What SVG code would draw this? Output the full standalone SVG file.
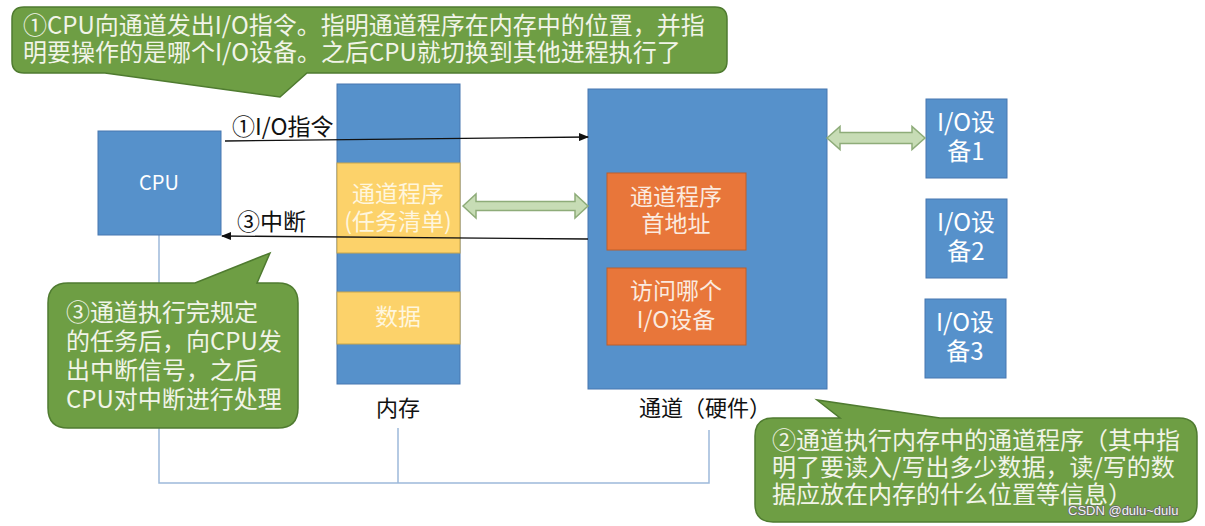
<svg xmlns="http://www.w3.org/2000/svg" width="1205" height="526" viewBox="0 0 1205 526">
<style>
text{font-family:"Noto Sans CJK SC","Liberation Sans",sans-serif;}
.blue{fill:#5691CB;stroke:#4677B0;stroke-width:1;}
.yellow{fill:#FCD26A;stroke:#C9A64A;stroke-width:1;}
.orange{fill:#E8763A;stroke:#BE5E2A;stroke-width:1;}
.callout{fill:#6E9E44;stroke:#4F7B30;stroke-width:1.5;}
.ct{fill:#F1F4E8;font-size:24px;}
.wt{fill:#FFFFFF;font-size:24px;text-anchor:middle;}
.yt{fill:#FFF6DE;font-size:23px;text-anchor:middle;}
.ot{fill:#FBEADF;font-size:23px;text-anchor:middle;}
.lbl{fill:#111;font-size:23px;}
.bus{stroke:#9DB9DA;stroke-width:1.5;fill:none;}
.dbl{fill:#C7DCB5;stroke:#8EAC79;stroke-width:1.5;}
.conn{stroke:#111;stroke-width:1.3;fill:none;}
</style>
<defs>
<marker id="ah" markerWidth="10" markerHeight="8" refX="9" refY="4" orient="auto" markerUnits="userSpaceOnUse">
<path d="M0,0 L10,4 L0,8 Z" fill="#111"/>
</marker>
</defs>
<rect width="1205" height="526" fill="#FFFFFF"/>

<g id="bus">
<path class="bus" d="M159,235 V483 H709 V430"/>
<path class="bus" d="M398,428 V483"/>
</g>

<g id="cpu">
<rect class="blue" x="98" y="131" width="123" height="104"/>
<text class="wt" x="159" y="190" style="font-size:20px">CPU</text>
</g>

<g id="memory">
<rect class="blue" x="337" y="84" width="123" height="300"/>
<rect class="yellow" x="337" y="163" width="123" height="90"/>
<rect class="yellow" x="337" y="292" width="123" height="52"/>
<text class="yt" x="398" y="202">通道程序</text>
<text class="yt" x="398" y="230">(任务清单)</text>
<text class="yt" x="398" y="325">数据</text>
<text class="lbl" x="398" y="416" text-anchor="middle" style="font-size:22px">内存</text>
</g>

<g id="channel">
<rect class="blue" x="588" y="89" width="239" height="300"/>
<rect class="orange" x="607" y="173" width="139" height="77"/>
<rect class="orange" x="607" y="268" width="139" height="77"/>
<text class="ot" x="676" y="205">通道程序</text>
<text class="ot" x="676" y="232">首地址</text>
<text class="ot" x="676" y="299">访问哪个</text>
<text class="ot" x="676" y="328">I/O设备</text>
<text class="lbl" x="705" y="416" text-anchor="middle" style="font-size:22px">通道（硬件）</text>
</g>

<g id="io1">
<rect class="blue" x="926" y="99" width="81" height="79"/>
<text class="wt" x="966" y="131">I/O设</text>
<text class="wt" x="966" y="160">备1</text>
</g>
<g id="io2">
<rect class="blue" x="926" y="199" width="81" height="79"/>
<text class="wt" x="966" y="231">I/O设</text>
<text class="wt" x="966" y="260">备2</text>
</g>
<g id="io3">
<rect class="blue" x="925" y="299" width="81" height="79"/>
<text class="wt" x="965" y="331">I/O设</text>
<text class="wt" x="965" y="360">备3</text>
</g>

<g id="connectors">
<line class="conn" x1="225" y1="141" x2="588" y2="137" marker-end="url(#ah)"/>
<text class="lbl" x="232" y="135">①I/O指令</text>
<line class="conn" x1="588" y1="239" x2="222" y2="236" marker-end="url(#ah)"/>
<text class="lbl" x="237" y="230">③中断</text>
<polygon class="dbl" points="463,206 476,194 476,201.5 575,201.5 575,194 588,206 575,218 575,210.5 476,210.5 476,218"/>
<polygon class="dbl" points="827,138 840,126.5 840,132.5 912,132.5 912,126.5 925,138 912,149.5 912,143.5 840,143.5 840,149.5"/>
</g>

<g id="callout1">
<path class="callout" d="M24,7 H715 Q727,7 727,19 V61 Q727,73 715,73 H307 L280,97 L105,73 H24 Q12,73 12,61 V19 Q12,7 24,7 Z"/>
<text class="ct" x="23" y="34">①CPU向通道发出I/O指令。指明通道程序在内存中的位置，并指</text>
<text class="ct" x="23" y="61">明要操作的是哪个I/O设备。之后CPU就切换到其他进程执行了</text>
</g>

<g id="callout3">
<path class="callout" d="M68,283 H195 L270,253 L257,283 H278 Q298,283 298,303 V408 Q298,428 278,428 H68 Q48,428 48,408 V303 Q48,283 68,283 Z"/>
<text class="ct" x="66" y="321">③通道执行完规定</text>
<text class="ct" x="66" y="350">的任务后，向CPU发</text>
<text class="ct" x="66" y="379">出中断信号，之后</text>
<text class="ct" x="66" y="408">CPU对中断进行处理</text>
</g>

<g id="callout2">
<path class="callout" d="M773,418 H840 L817,400 L940,418 H1179 Q1197,418 1197,436 V504 Q1197,522 1179,522 H773 Q755,522 755,504 V436 Q755,418 773,418 Z"/>
<text class="ct" x="772" y="449">②通道执行内存中的通道程序（其中指</text>
<text class="ct" x="772" y="476">明了要读入/写出多少数据，读/写的数</text>
<text class="ct" x="772" y="503">据应放在内存的什么位置等信息）</text>
</g>

<text x="1068" y="515" style="font-family:'Liberation Sans',sans-serif;font-size:13px;fill:#F4F4F4;stroke:#666;stroke-width:1.6;paint-order:stroke;">CSDN @dulu~dulu</text>
</svg>
